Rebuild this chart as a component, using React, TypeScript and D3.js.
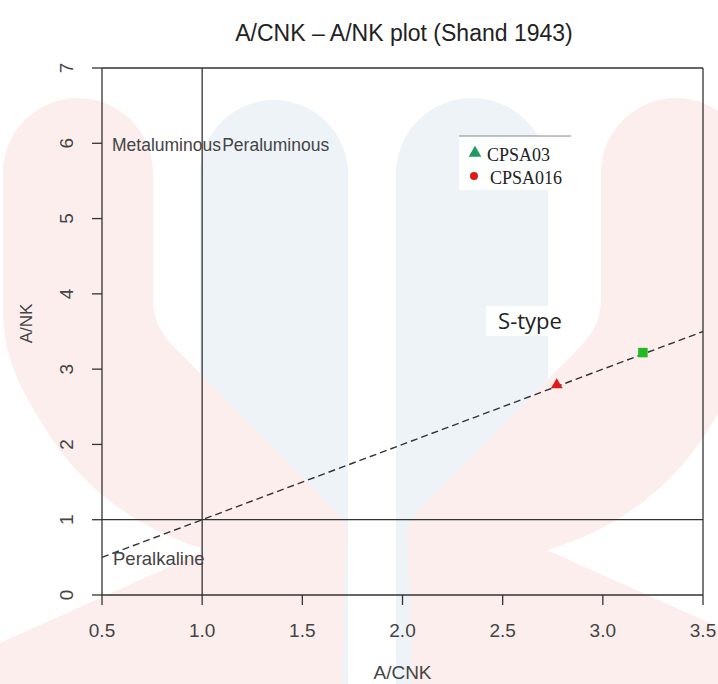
import React from "react";
import * as d3 from "d3";

// ---- data ----
const xTicks = [0.5, 1.0, 1.5, 2.0, 2.5, 3.0, 3.5];
const yTicks = [0, 1, 2, 3, 4, 5, 6, 7];
const hLines = [0, 1, 7];
const vLines = [0.5, 1.0, 3.5];
const dividerX = [0.5, 3.5];
const dividerY = [0.5, 3.5];
const sampleNames = ["CPSA03", "CPSA016"];
const sampleX = [3.2, 2.77];
const sampleY = [3.22, 2.79];
const sampleColors = ["#22b822", "#e01818"];
const legendColors = ["#1f9a5e", "#e01818"];
const fieldLabels = ["Metaluminous", "Peraluminous", "Peralkaline"];
const fieldLabelX = [0.55, 1.1, 0.555];
const fieldLabelY = [6, 6, 0.5];
const fieldLabelSize = [17.5, 17.5, 18.5];

const W = 718;
const H = 684;
const SANS = "'Liberation Sans', Arial, sans-serif";

// watermark decoration (background logo)
const pinkShape =
  "M 3 173 A 75 75 0 0 1 153 173 L 153 298 C 153 318 160 333 175 348 L 322 497 C 346 521 350 528 346 548 L 342 684 L 0 684 L 0 643 L 207 550 C 140 530 80 490 40 420 C 15 380 3 350 3 310 Z";
const bluePillars = [
  "M 200 684 L 200 174 A 74 74 0 0 1 348 174 L 348 684 Z",
  "M 396 684 L 396 174 A 76 76 0 0 1 548 174 L 548 684 Z",
];

export default function App() {
  const x = d3.scaleLinear().domain([0.5, 3.5]).range([102, 703]);
  const y = d3.scaleLinear().domain([0, 7]).range([595, 68]);
  const line = d3
    .line<number>()
    .x((d) => x(dividerX[d]))
    .y((d) => y(dividerY[d]));
  const tri = d3.symbol().type(d3.symbolTriangle).size(60)();
  const sq = d3.symbol().type(d3.symbolSquare).size(90)();
  const legTri = d3.symbol().type(d3.symbolTriangle).size(70)();
  const legCirc = d3.symbol().type(d3.symbolCircle).size(50)();
  const [x0, x1] = x.range();
  const [y0, y1] = y.range();

  return (
    <div style={{ position: "fixed", left: 0, top: 0 }}>
      <svg width={W} height={H} xmlns="http://www.w3.org/2000/svg">
        <rect width={W} height={H} fill="#ffffff" />
        {/* watermark */}
        {bluePillars.map((p, i) => (
          <path key={i} d={p} fill="#eef3f8" />
        ))}
        <path d={pinkShape} fill="#fdeeee" />
        <path d={pinkShape} fill="#fdeeee" transform="translate(754,0) scale(-1,1)" />

        {/* title */}
        <text x={404} y={41} textAnchor="middle" fontFamily={SANS} fontSize={23} fill="#222">
          A/CNK – A/NK plot (Shand 1943)
        </text>

        {/* reference lines */}
        {hLines.map((v) => (
          <line key={"h" + v} x1={x0} x2={x1} y1={y(v)} y2={y(v)} stroke="#333" strokeWidth={1.3} />
        ))}
        {vLines.map((v) => (
          <line key={"v" + v} x1={x(v)} x2={x(v)} y1={y0} y2={y1} stroke="#333" strokeWidth={1.3} />
        ))}

        {/* axes ticks */}
        {xTicks.map((t) => (
          <g key={"xt" + t}>
            <line x1={x(t)} x2={x(t)} y1={y0} y2={y0 + 10} stroke="#333" strokeWidth={1.3} />
            <text x={x(t)} y={y0 + 42} textAnchor="middle" fontFamily={SANS} fontSize={19} fill="#444">
              {d3.format(".1f")(t)}
            </text>
          </g>
        ))}
        {yTicks.map((t) => (
          <g key={"yt" + t}>
            <line x1={x0 - 10} x2={x0} y1={y(t)} y2={y(t)} stroke="#333" strokeWidth={1.3} />
            <text
              transform={`translate(${x0 - 29},${y(t)}) rotate(-90)`}
              textAnchor="middle"
              fontFamily={SANS}
              fontSize={19}
              fill="#444"
            >
              {t}
            </text>
          </g>
        ))}
        <text x={(x0 + x1) / 2} y={679} textAnchor="middle" fontFamily={SANS} fontSize={19} fill="#444">
          A/CNK
        </text>
        <text
          transform={`translate(32,${(y0 + y1) / 2 - 8}) rotate(-90)`}
          textAnchor="middle"
          fontFamily={SANS}
          fontSize={17}
          fill="#444"
        >
          A/NK
        </text>

        {/* divider line */}
        <path d={line([0, 1]) || ""} fill="none" stroke="#333" strokeWidth={1.4} strokeDasharray="7,4" />

        {/* field labels */}
        {fieldLabels.map((l, i) => (
          <text
            key={l}
            x={x(fieldLabelX[i])}
            y={y(fieldLabelY[i]) + 8}
            fontFamily={SANS}
            fontSize={fieldLabelSize[i]}
            fill="#444"
          >
            {l}
          </text>
        ))}

        {/* S-type label */}
        <rect x={486} y={306} width={80} height={30} fill="#ffffff" opacity={0.85} />
        <text x={530} y={329} textAnchor="middle" fontFamily="'Open Sans', sans-serif" fontSize={22} fill="#222">
          S-type
        </text>

        {/* samples */}
        <path d={sq} transform={`translate(${x(sampleX[0])},${y(sampleY[0])})`} fill={sampleColors[0]} />
        <path d={tri} transform={`translate(${x(sampleX[1])},${y(sampleY[1])})`} fill={sampleColors[1]} />

        {/* legend */}
        <rect x={459} y={136} width={112} height={54} fill="#ffffff" opacity={0.85} />
        <line x1={459} x2={571} y1={136} y2={136} stroke="#888" strokeWidth={1} />
        <path d={legTri} transform="translate(475,153)" fill={legendColors[0]} />
        <text x={487} y={161} fontFamily="'Liberation Serif', 'Times New Roman', serif" fontSize={18} fill="#222">
          {sampleNames[0]}
        </text>
        <path d={legCirc} transform="translate(474,176)" fill={legendColors[1]} />
        <text x={490} y={184} fontFamily="'Liberation Serif', 'Times New Roman', serif" fontSize={18} fill="#222">
          {sampleNames[1]}
        </text>
      </svg>
    </div>
  );
}
